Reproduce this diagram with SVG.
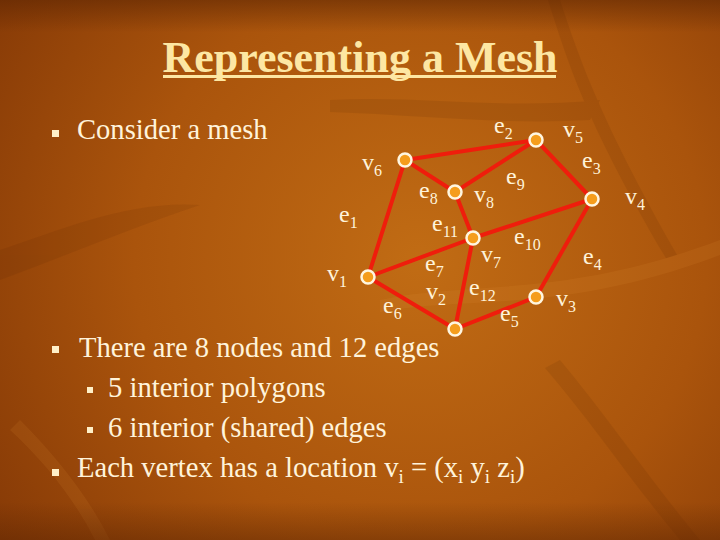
<svg xmlns="http://www.w3.org/2000/svg" width="720" height="540" viewBox="0 0 720 540">
  <defs>
    <radialGradient id="bg" cx="420" cy="260" r="520" gradientUnits="userSpaceOnUse">
      <stop offset="0" stop-color="#c16c14"/>
      <stop offset="0.55" stop-color="#aa540c"/>
      <stop offset="1" stop-color="#843806"/>
    </radialGradient>
    <linearGradient id="vshade" x1="0" y1="0" x2="0" y2="1">
      <stop offset="0" stop-color="#5a2402" stop-opacity="0.55"/>
      <stop offset="0.06" stop-color="#5a2402" stop-opacity="0"/>
      <stop offset="0.93" stop-color="#5a2402" stop-opacity="0"/>
      <stop offset="1" stop-color="#5a2402" stop-opacity="0.45"/>
    </linearGradient>
    <style>
      .title { font-family: "Liberation Serif", "Times New Roman", serif; font-weight: bold; font-size: 44px; fill: #fde7a3; }
      .body { font-family: "Liberation Serif", "Times New Roman", serif; font-size: 28.6px; fill: #fff3da; }
      .lbl { font-family: "Liberation Serif", "Times New Roman", serif; font-size: 24px; fill: #fff3da; }
      .sub { font-size: 16px; }
      .bsub { font-size: 19px; }
      .bullet { fill: #fff0c8; }
      .edge { stroke: #ef1d0c; stroke-width: 4; stroke-linecap: round; fill: none; }
      .node { fill: #f59d1c; stroke: #fff6e0; stroke-width: 2.5; }
    </style>
  </defs>

  <rect x="0" y="0" width="720" height="540" fill="url(#bg)"/>
  <g id="background-leaves" opacity="0.1">
    <path d="M0,250 C60,230 130,200 200,205 C140,225 80,250 0,280 Z" fill="#4a1c00"/>
    <path d="M330,100 C420,95 500,110 600,100 L590,120 C500,125 420,115 330,112 Z" fill="#4a1c00"/>
    <path d="M560,0 C580,60 600,120 680,260 L670,265 C590,130 570,70 548,0 Z" fill="#4a1c00"/>
    <path d="M380,300 C470,280 560,300 720,240 L720,255 C560,315 470,295 380,312 Z" fill="#f0a040"/>
    <path d="M20,420 C60,460 90,500 110,540 L95,540 C75,500 45,462 10,430 Z" fill="#f0a040"/>
    <path d="M560,360 C610,420 650,480 700,540 L680,540 C630,480 590,420 545,368 Z" fill="#4a1c00"/>
  </g>
  <rect x="0" y="0" width="720" height="540" fill="url(#vshade)"/>

  <g id="title">
    <text class="title" x="360" y="72" text-anchor="middle">Representing a Mesh</text>
    <rect x="163" y="75" width="393" height="3" fill="#fde7a3"/>
  </g>

  <g id="bullets">
    <rect class="bullet" x="52" y="130" width="7" height="7"/>
    <text class="body" x="77" y="139">Consider a mesh</text>
    <rect class="bullet" x="52" y="346" width="7" height="7"/>
    <text class="body" x="79" y="357">There are 8 nodes and 12 edges</text>
    <rect class="bullet" x="87" y="387" width="6" height="6"/>
    <text class="body" x="108" y="397">5 interior polygons</text>
    <rect class="bullet" x="87" y="427" width="6" height="6"/>
    <text class="body" x="108" y="437">6 interior (shared) edges</text>
    <rect class="bullet" x="52" y="469" width="7" height="7"/>
    <text class="body" x="77" y="477">Each vertex has a location v<tspan class="bsub" dy="6">i</tspan><tspan dy="-6"> = (x</tspan><tspan class="bsub" dy="6">i</tspan><tspan dy="-6"> y</tspan><tspan class="bsub" dy="6">i</tspan><tspan dy="-6"> z</tspan><tspan class="bsub" dy="6">i</tspan><tspan dy="-6">)</tspan></text>
  </g>

  <g id="connectors">
    <line class="edge" x1="405" y1="160" x2="536" y2="140"/>
    <line class="edge" x1="405" y1="160" x2="455" y2="192"/>
    <line class="edge" x1="455" y1="192" x2="536" y2="140"/>
    <line class="edge" x1="536" y1="140" x2="592" y2="199"/>
    <line class="edge" x1="405" y1="160" x2="368" y2="277"/>
    <line class="edge" x1="455" y1="192" x2="473" y2="238"/>
    <line class="edge" x1="592" y1="199" x2="473" y2="238"/>
    <line class="edge" x1="592" y1="199" x2="536" y2="297"/>
    <line class="edge" x1="368" y1="277" x2="473" y2="238"/>
    <line class="edge" x1="368" y1="277" x2="455" y2="329"/>
    <line class="edge" x1="473" y1="238" x2="455" y2="329"/>
    <line class="edge" x1="455" y1="329" x2="536" y2="297"/>
  </g>

  <g id="v1"><circle class="node" cx="368" cy="277" r="6.5"/></g>
  <g id="v2"><circle class="node" cx="455" cy="329" r="6.5"/></g>
  <g id="v3"><circle class="node" cx="536" cy="297" r="6.5"/></g>
  <g id="v4"><circle class="node" cx="592" cy="199" r="6.5"/></g>
  <g id="v5"><circle class="node" cx="536" cy="140" r="6.5"/></g>
  <g id="v6"><circle class="node" cx="405" cy="160" r="6.5"/></g>
  <g id="v7"><circle class="node" cx="473" cy="238" r="6.5"/></g>
  <g id="v8"><circle class="node" cx="455" cy="192" r="6.5"/></g>

  <g id="labels">
    <text class="lbl" x="494" y="133">e<tspan class="sub" dy="6">2</tspan></text>
    <text class="lbl" x="563" y="137">v<tspan class="sub" dy="6">5</tspan></text>
    <text class="lbl" x="362" y="170">v<tspan class="sub" dy="6">6</tspan></text>
    <text class="lbl" x="582" y="168">e<tspan class="sub" dy="6">3</tspan></text>
    <text class="lbl" x="506" y="184">e<tspan class="sub" dy="6">9</tspan></text>
    <text class="lbl" x="419" y="198">e<tspan class="sub" dy="6">8</tspan></text>
    <text class="lbl" x="474" y="202">v<tspan class="sub" dy="6">8</tspan></text>
    <text class="lbl" x="625" y="204">v<tspan class="sub" dy="6">4</tspan></text>
    <text class="lbl" x="339" y="222">e<tspan class="sub" dy="6">1</tspan></text>
    <text class="lbl" x="432" y="231">e<tspan class="sub" dy="6">11</tspan></text>
    <text class="lbl" x="514" y="244">e<tspan class="sub" dy="6">10</tspan></text>
    <text class="lbl" x="583" y="264">e<tspan class="sub" dy="6">4</tspan></text>
    <text class="lbl" x="481" y="262">v<tspan class="sub" dy="6">7</tspan></text>
    <text class="lbl" x="425" y="271">e<tspan class="sub" dy="6">7</tspan></text>
    <text class="lbl" x="327" y="281">v<tspan class="sub" dy="6">1</tspan></text>
    <text class="lbl" x="469" y="295">e<tspan class="sub" dy="6">12</tspan></text>
    <text class="lbl" x="426" y="299">v<tspan class="sub" dy="6">2</tspan></text>
    <text class="lbl" x="500" y="321">e<tspan class="sub" dy="6">5</tspan></text>
    <text class="lbl" x="556" y="306">v<tspan class="sub" dy="6">3</tspan></text>
    <text class="lbl" x="383" y="313">e<tspan class="sub" dy="6">6</tspan></text>
  </g>
</svg>
